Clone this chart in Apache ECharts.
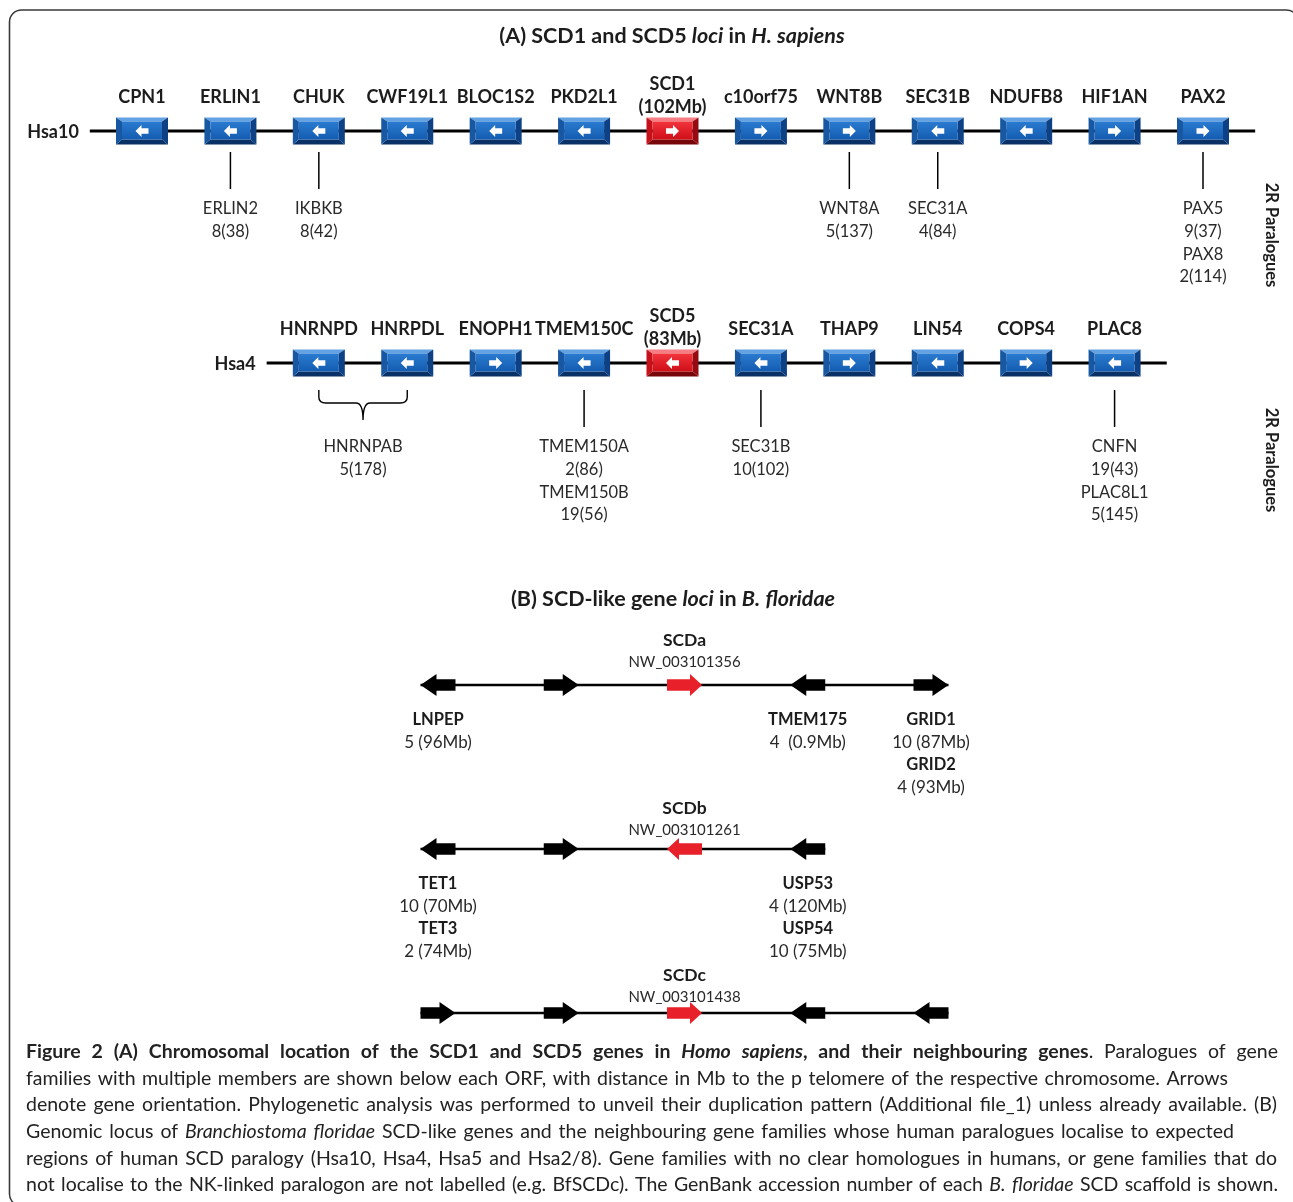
<!DOCTYPE html>
<html><head><meta charset="utf-8">
<script src="https://cdn.jsdelivr.net/npm/echarts/dist/echarts.min.js"></script>
<style>html,body{margin:0;padding:0;background:#fff}#c{width:1293px;height:1202px}</style>
</head><body><div id="c"></div><script>
// ================= DATA =================
// (A) Human loci
const hsa10Name = 'Hsa10';
const hsa10Genes = ['CPN1','ERLIN1','CHUK','CWF19L1','BLOC1S2','PKD2L1','SCD1','c10orf75','WNT8B','SEC31B','NDUFB8','HIF1AN','PAX2'];
const hsa10Strand = ['-','-','-','-','-','-','+','+','+','-','-','+','+'];
const hsa10Focus = 'SCD1';
const hsa10FocusPos = '(102Mb)';
const hsa10Paralogues = {
  ERLIN1: ['ERLIN2','8(38)'],
  CHUK: ['IKBKB','8(42)'],
  WNT8B: ['WNT8A','5(137)'],
  SEC31B: ['SEC31A','4(84)'],
  PAX2: ['PAX5','9(37)','PAX8','2(114)']
};

const hsa4Name = 'Hsa4';
const hsa4Genes = ['HNRNPD','HNRPDL','ENOPH1','TMEM150C','SCD5','SEC31A','THAP9','LIN54','COPS4','PLAC8'];
const hsa4Strand = ['-','-','+','-','-','-','+','-','+','-'];
const hsa4Focus = 'SCD5';
const hsa4FocusPos = '(83Mb)';
const hsa4Paralogues = {
  TMEM150C: ['TMEM150A','2(86)','TMEM150B','19(56)'],
  SEC31A: ['SEC31B','10(102)'],
  PLAC8: ['CNFN','19(43)','PLAC8L1','5(145)']
};
const hsa4SharedGenes = ['HNRNPD','HNRPDL'];
const hsa4SharedParalogue = ['HNRNPAB','5(178)'];
const sideLabel = '2R Paralogues';

// (B) B. floridae loci
const bfLoci = ['SCDa','SCDb','SCDc'];
const bfAccession = ['NW_003101356','NW_003101261','NW_003101438'];
const bfScdIndex = [2, 2, 2];
const scdaStrand = ['-','+','+','-','+'];
const scdbStrand = ['-','+','-','-'];
const scdcStrand = ['+','+','+','-','-'];
const scdaLabels = [['LNPEP','5 (96Mb)'], null, null, ['TMEM175','4  (0.9Mb)'], ['GRID1','10 (87Mb)','GRID2','4 (93Mb)']];
const scdbLabels = [['TET1','10 (70Mb)','TET3','2 (74Mb)'], null, null, ['USP53','4 (120Mb)','USP54','10 (75Mb)']];
const scdcLabels = [null, null, null, null, null];

// Titles and caption
const titleA = [['b','(A) SCD1 and SCD5 '],['bi','loci'],['b',' in '],['bi','H. sapiens']];
const titleB = [['b','(B) SCD-like gene '],['bi','loci'],['b',' in '],['bi','B. floridae']];
const captionLines = [
  [['b','Figure 2 (A) Chromosomal location of the SCD1 and SCD5 genes in '],['bi','Homo sapiens'],['b',', and their neighbouring genes'],['r','. Paralogues of gene']],
  [['r','families with multiple members are shown below each ORF, with distance in Mb to the p telomere of the respective chromosome. Arrows']],
  [['r','denote gene orientation. Phylogenetic analysis was performed to unveil their duplication pattern (Additional file_1) unless already available. (B)']],
  [['r','Genomic locus of '],['i','Branchiostoma floridae'],['r',' SCD-like genes and the neighbouring gene families whose human paralogues localise to expected']],
  [['r','regions of human SCD paralogy (Hsa10, Hsa4, Hsa5 and Hsa2/8). Gene families with no clear homologues in humans, or gene families that do']],
  [['r','not localise to the NK-linked paralogon are not labelled (e.g. BfSCDc). The GenBank accession number of each '],['i','B. floridae'],['r',' SCD scaffold is shown.']]
];

// ================= LAYOUT / STYLE =================
const FONT = 'Lato';
const TXT = '#1c1c1c';
const HSA4_OFFSET = 2;          // Hsa4 genes drawn under Hsa10 slots 2..11
const captionRight = [1278, 1228, 1277, 1234, 1277, 1278];
const LOCUS_LABEL_SHIFT = [-4, 0, 3];

const mctx = document.createElement('canvas').getContext('2d');
function fontOf(st, size){ return (st.includes('i')?'italic ':'') + (st.includes('b')?'bold ':'') + size + 'px ' + FONT; }
function measure(t, st, size){ mctx.font = fontOf(st, size); return mctx.measureText(t).width; }
function tokenize(segs){
  const toks = [[]];
  segs.forEach(([st, txt]) => {
    txt.split(' ').forEach((p, i) => { if (i > 0) toks.push([]); if (p) toks[toks.length-1].push({st, t:p}); });
  });
  return toks.filter(t => t.length);
}
function runElements(segs, o){
  const size = o.size, toks = tokenize(segs);
  const widths = toks.map(tok => tok.reduce((s,p) => s + measure(p.t, p.st, size), 0));
  const total = widths.reduce((a,b) => a+b, 0);
  let gap = measure(' ', toks[0][0].st, size);
  if (o.width != null && toks.length > 1) gap = Math.max(2, (o.width - total) / (toks.length - 1));
  const full = total + gap * (toks.length - 1);
  let cx = o.align === 'center' ? o.x - full/2 : o.x;
  const els = [];
  toks.forEach(tok => {
    tok.forEach(p => {
      els.push({type:'text', x:cx, y:o.y, silent:true, style:{text:p.t, fontSize:size, fontFamily:FONT,
        fontWeight:p.st.includes('b')?'bold':'normal', fontStyle:p.st.includes('i')?'italic':'normal',
        fill:o.color||TXT, align:'left', verticalAlign:'middle'}});
      cx += measure(p.t, p.st, size);
    });
    cx += gap;
  });
  return els;
}
function txt(x, y, text, size, weight, color){
  return {type:'text', x, y, style:{text, fontSize:size, fontFamily:FONT, fontWeight:weight||'normal', fill:color||TXT, align:'center', verticalAlign:'middle'}};
}

// Build item lists from the data
const geneItemsA = [];
hsa10Genes.forEach((g,i) => geneItemsA.push({slot:i, row:0, name:g, strand:hsa10Strand[i], focus:g===hsa10Focus, pos:hsa10FocusPos}));
hsa4Genes.forEach((g,i) => geneItemsA.push({slot:i+HSA4_OFFSET, row:1, name:g, strand:hsa4Strand[i], focus:g===hsa4Focus, pos:hsa4FocusPos}));

const chromItems = [
  {row:0, from:0, to:hsa10Genes.length-1, name:hsa10Name},
  {row:1, from:HSA4_OFFSET, to:HSA4_OFFSET+hsa4Genes.length-1, name:hsa4Name}
];

const paraItemsA = [];
Object.keys(hsa10Paralogues).forEach(g => paraItemsA.push({slot:hsa10Genes.indexOf(g), row:0, labels:hsa10Paralogues[g]}));
Object.keys(hsa4Paralogues).forEach(g => paraItemsA.push({slot:hsa4Genes.indexOf(g)+HSA4_OFFSET, row:1, labels:hsa4Paralogues[g]}));
const braceItems = [{a:hsa4Genes.indexOf(hsa4SharedGenes[0])+HSA4_OFFSET, b:hsa4Genes.indexOf(hsa4SharedGenes[1])+HSA4_OFFSET, row:1, labels:hsa4SharedParalogue}];

const bfStrands = [scdaStrand, scdbStrand, scdcStrand];
const bfLabels = [scdaLabels, scdbLabels, scdcLabels];
const arrowItemsB = [];
bfStrands.forEach((arr, r) => arr.forEach((s, i) => arrowItemsB.push({slot:i, row:r, strand:s, red:i===bfScdIndex[r], labels:bfLabels[r][i]})));
const locusItemsB = bfLoci.map((n, r) => ({row:r, n:bfStrands[r].length, name:n, acc:bfAccession[r]}));

// ================= RENDERERS =================
const BELOW_SHIFT = [0, 6];
function bevelBox(cx, cy, w, h, red, strand){
  const x0=cx-w/2, x1=cx+w/2, y0=cy-h/2, y1=cy+h/2, s=6, t=4, b=5;
  const P = red ? {f0:'#f2343c', f1:'#cf0f18', top:'#f57e84', left:'#c4111a', right:'#960a12', bot:'#760609'}
                : {f0:'#2a7bd0', f1:'#135cb0', top:'#62a2e2', left:'#1857a2', right:'#0d4084', bot:'#093166'};
  const poly = (pts, fill) => ({type:'polygon', shape:{points:pts}, style:{fill}});
  const d = strand === '+' ? 1 : -1;
  const ap = [[-6.5,-2.8],[0.5,-2.8],[0.5,-6],[6.5,0],[0.5,6],[0.5,2.8],[-6.5,2.8]].map(([dx,dy]) => [cx+d*dx, cy+dy]);
  return [
    poly([[x0,y0],[x1,y0],[x1-s,y0+t],[x0+s,y0+t]], P.top),
    poly([[x0,y1],[x1,y1],[x1-s,y1-b],[x0+s,y1-b]], P.bot),
    poly([[x0,y0],[x0+s,y0+t],[x0+s,y1-b],[x0,y1]], P.left),
    poly([[x1,y0],[x1-s,y0+t],[x1-s,y1-b],[x1,y1]], P.right),
    {type:'rect', shape:{x:x0+s, y:y0+t, width:w-2*s, height:h-t-b},
      style:{fill:{type:'linear', x:0, y:0, x2:0, y2:1, colorStops:[{offset:0, color:P.f0},{offset:1, color:P.f1}]}}},
    poly(ap, '#ffffff')
  ];
}

function renderChrom(params, api){
  const c = chromItems[params.dataIndex];
  const p0 = api.coord([c.from - 0.59, c.row]), p1 = api.coord([c.to + 0.59, c.row]);
  return {type:'group', children:[
    {type:'line', shape:{x1:p0[0], y1:p0[1], x2:p1[0], y2:p1[1]}, style:{stroke:'#000', lineWidth:3}},
    {type:'text', x:p0[0]-11, y:p0[1]+1, style:{text:c.name, fontSize:18, fontFamily:FONT, fontWeight:'bold', fill:TXT, align:'right', verticalAlign:'middle'}}
  ]};
}
function renderGeneA(params, api){
  const g = geneItemsA[params.dataIndex];
  const [cx, cy] = api.coord([g.slot, g.row]);
  const ch = bevelBox(cx, cy, 52, 27, g.focus, g.strand);
  if (g.focus){ ch.push(txt(cx, cy-47, g.name, 18, 'bold')); ch.push(txt(cx, cy-24, g.pos, 18, 'bold')); }
  else ch.push(txt(cx, cy-34, g.name, 18, 'bold'));
  return {type:'group', children:ch};
}
function renderParaA(params, api){
  const p = paraItemsA[params.dataIndex];
  const [cx, cy] = api.coord([p.slot, p.row]);
  const sh = BELOW_SHIFT[p.row];
  const ch = [{type:'line', shape:{x1:cx, y1:cy+21+sh, x2:cx, y2:cy+58+sh}, style:{stroke:'#000', lineWidth:1.5}}];
  p.labels.forEach((l, k) => ch.push(txt(cx, cy+78+sh+k*22.7, l, 16.5, 'normal', '#2a2a2a')));
  return {type:'group', children:ch};
}
function renderBrace(params, api){
  const b = braceItems[params.dataIndex];
  const pa = api.coord([b.a, b.row]), pb = api.coord([b.b, b.row]);
  const x0 = pa[0], x1 = pb[0], xm = (x0+x1)/2, sh = BELOW_SHIFT[b.row];
  const yt = pa[1]+21+sh, yb = pa[1]+34+sh, tip = pa[1]+51+sh;
  const d = `M${x0},${yt} L${x0},${yb-6} Q${x0},${yb} ${x0+7},${yb} L${xm-7},${yb} Q${xm},${yb} ${xm},${tip} M${x1},${yt} L${x1},${yb-6} Q${x1},${yb} ${x1-7},${yb} L${xm+7},${yb} Q${xm},${yb} ${xm},${tip}`;
  const ch = [{type:'path', shape:{pathData:d}, style:{stroke:'#000', lineWidth:1.4, fill:null}}];
  b.labels.forEach((l, k) => ch.push(txt(xm, pa[1]+78+sh+k*22.7, l, 16.5, 'normal', '#2a2a2a')));
  return {type:'group', children:ch};
}
const ARW = 35;
function renderLocusB(params, api){
  const L = locusItemsB[params.dataIndex];
  const p0 = api.coord([0, L.row]), p1 = api.coord([L.n-1, L.row]), pm = api.coord([bfScdIndex[L.row], L.row]);
  const sh = LOCUS_LABEL_SHIFT[L.row];
  return {type:'group', children:[
    {type:'line', shape:{x1:p0[0]-ARW/2, y1:p0[1], x2:p1[0]+ARW/2, y2:p1[1]}, style:{stroke:'#000', lineWidth:2.6}},
    txt(pm[0], pm[1]-41+sh, L.name, 17.5, 'bold'),
    txt(pm[0], pm[1]-19+sh, L.acc, 15, 'normal', '#2a2a2a')
  ]};
}
function renderArrowB(params, api){
  const a = arrowItemsB[params.dataIndex];
  const [cx, cy] = api.coord([a.slot, a.row]);
  const head = a.red ? 12 : 16, hh = 11, bh = 5.8, h2 = ARW/2, d = a.strand === '+' ? 1 : -1;
  const pts = [[-h2,-bh],[h2-head,-bh],[h2-head,-hh],[h2,0],[h2-head,hh],[h2-head,bh],[-h2,bh]].map(([x,y]) => [cx+d*x, cy+y]);
  const ch = [{type:'polygon', shape:{points:pts}, style:{fill:a.red ? '#e8202a' : '#000'}}];
  if (a.labels) a.labels.forEach((l, k) => ch.push(txt(cx, cy+35+k*22.5, l, k%2===0 ? 16.5 : 17, k%2===0 ? 'bold' : 'normal', k%2===0 ? TXT : '#2a2a2a')));
  return {type:'group', children:ch};
}

// ================= GRAPHIC (titles, caption, frame) =================
const graphics = [
  {type:'rect', silent:true, shape:{x:9.5, y:10, width:1289, height:1196, r:12}, style:{fill:null, stroke:'#3a3a3a', lineWidth:1.6}},
  ...runElements(titleA, {x:672, y:36, size:21.5, align:'center'}),
  ...runElements(titleB, {x:673, y:599, size:21.5, align:'center'}),
  {type:'text', x:1271, y:235, rotation:-Math.PI/2, silent:true, style:{text:sideLabel, fontSize:16.5, fontFamily:FONT, fontWeight:'bold', fill:TXT, align:'center', verticalAlign:'middle'}},
  {type:'text', x:1271, y:460, rotation:-Math.PI/2, silent:true, style:{text:sideLabel, fontSize:16.5, fontFamily:FONT, fontWeight:'bold', fill:TXT, align:'center', verticalAlign:'middle'}}
];
captionLines.forEach((segs, i) => graphics.push(...runElements(segs, {x:26, y:1052 + i*26.6, size:19.5, width:captionRight[i]-26, color:'#222'})));

// ================= CHART =================
const chart = echarts.init(document.getElementById('c'));
chart.setOption({
  animation:false,
  backgroundColor:'#ffffff',
  grid:[
    {left:142, width:1061, top:131, height:232},
    {left:438, width:493, top:685, height:328}
  ],
  xAxis:[
    {type:'value', gridIndex:0, min:0, max:12, show:false},
    {type:'value', gridIndex:1, min:0, max:4, show:false}
  ],
  yAxis:[
    {type:'value', gridIndex:0, min:0, max:1, inverse:true, show:false},
    {type:'value', gridIndex:1, min:0, max:2, inverse:true, show:false}
  ],
  series:[
    {type:'custom', xAxisIndex:0, yAxisIndex:0, clip:false, silent:true, renderItem:renderChrom, data:chromItems.map(c => [c.from, c.row])},
    {type:'custom', xAxisIndex:0, yAxisIndex:0, clip:false, silent:true, renderItem:renderParaA, data:paraItemsA.map(p => [p.slot, p.row])},
    {type:'custom', xAxisIndex:0, yAxisIndex:0, clip:false, silent:true, renderItem:renderBrace, data:braceItems.map(b => [b.a, b.row])},
    {type:'custom', xAxisIndex:0, yAxisIndex:0, clip:false, silent:true, renderItem:renderGeneA, data:geneItemsA.map(g => [g.slot, g.row])},
    {type:'custom', xAxisIndex:1, yAxisIndex:1, clip:false, silent:true, renderItem:renderLocusB, data:locusItemsB.map(l => [0, l.row])},
    {type:'custom', xAxisIndex:1, yAxisIndex:1, clip:false, silent:true, renderItem:renderArrowB, data:arrowItemsB.map(a => [a.slot, a.row])}
  ],
  graphic:{elements:graphics}
});
</script></body></html>
